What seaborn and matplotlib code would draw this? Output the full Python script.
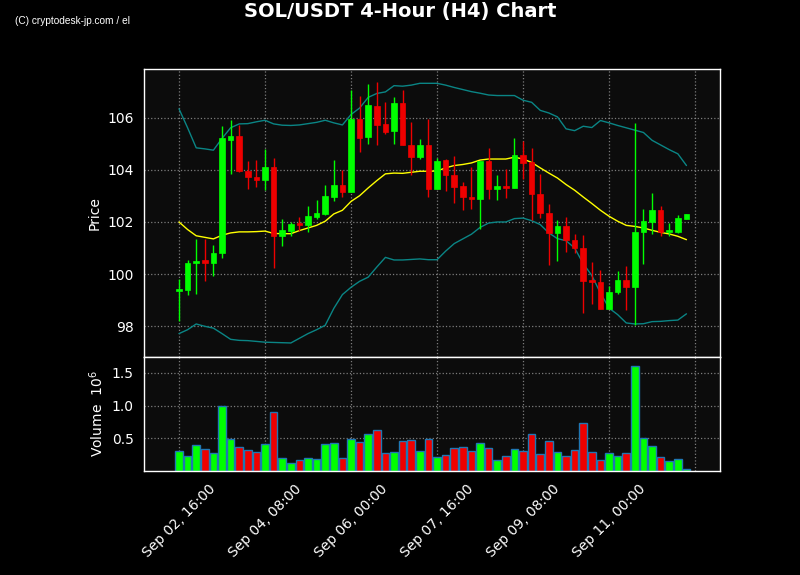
import matplotlib
matplotlib.use('Agg')
import matplotlib.pyplot as plt
import numpy as np
import pandas as pd
import seaborn as sns

# 4-hour candles (SOL/USDT)
opens = [99.35, 99.40, 100.44, 100.55, 100.41, 100.79, 105.17, 105.32, 103.97, 103.74,
         103.60, 104.13, 101.45, 101.67, 101.95, 101.87, 102.21, 102.32, 102.95, 103.44,
         103.17, 105.97, 105.26, 106.47, 105.78, 105.49, 106.59, 104.97, 104.49, 104.97,
         103.26, 104.40, 103.82, 103.40, 102.97, 102.87, 104.33, 103.26, 103.40, 103.29,
         104.58, 104.29, 103.09, 102.35, 101.56, 101.86, 101.32, 101.01, 99.76, 99.71,
         98.64, 99.29, 99.78, 99.49, 101.60, 102.01, 102.47, 101.63, 101.63, 102.13]
closes = [99.43, 100.44, 100.51, 100.41, 100.82, 105.21, 105.32, 103.95, 103.72, 103.60,
          104.13, 101.45, 101.71, 101.94, 101.87, 102.24, 102.36, 102.99, 103.44, 103.17,
          105.97, 105.21, 106.51, 105.74, 105.47, 106.59, 104.95, 104.49, 104.94, 103.26,
          104.36, 103.79, 103.36, 102.95, 102.87, 104.33, 103.26, 103.40, 103.29, 104.58,
          104.26, 103.06, 102.33, 101.56, 101.86, 101.29, 100.99, 99.72, 99.68, 98.64,
          99.32, 99.78, 99.49, 101.63, 102.05, 102.47, 101.63, 101.68, 102.17, 102.32]
highs = [99.80, 100.55, 101.35, 101.35, 101.12, 105.68, 105.92, 105.72, 104.33, 104.38,
         104.81, 104.46, 102.12, 102.00, 102.19, 102.63, 102.85, 103.44, 104.40, 104.01,
         107.06, 106.83, 107.31, 107.38, 106.62, 106.81, 107.08, 105.85, 105.19, 105.96,
         104.45, 104.42, 104.54, 103.54, 104.10, 104.33, 104.85, 103.81, 104.04, 105.23,
         105.10, 104.85, 103.85, 102.69, 102.08, 102.19, 101.55, 101.50, 100.47, 100.15,
         99.55, 100.12, 100.32, 105.81, 102.50, 103.12, 102.63, 101.96, 102.27, 102.32]
lows = [98.18, 99.19, 99.23, 99.74, 99.91, 100.62, 103.85, 103.92, 103.28, 103.35,
        103.24, 100.23, 101.08, 101.47, 101.64, 101.62, 102.10, 102.28, 102.79, 102.96,
        103.17, 104.69, 105.00, 104.96, 105.40, 105.00, 104.95, 103.82, 104.42, 102.96,
        103.26, 103.21, 102.73, 102.46, 102.50, 101.73, 102.88, 102.85, 102.92, 103.29,
        103.65, 102.09, 102.17, 100.36, 100.50, 100.85, 100.81, 98.50, 98.85, 98.64,
        98.64, 99.23, 98.63, 98.03, 100.40, 101.55, 101.47, 101.45, 101.58, 102.12]
# volume in millions
volumes = [0.30, 0.23, 0.40, 0.34, 0.27, 0.99, 0.49, 0.37, 0.32, 0.29,
           0.41, 0.90, 0.20, 0.12, 0.17, 0.20, 0.18, 0.41, 0.43, 0.20,
           0.49, 0.44, 0.56, 0.62, 0.27, 0.29, 0.46, 0.47, 0.30, 0.49,
           0.21, 0.24, 0.35, 0.37, 0.30, 0.43, 0.35, 0.17, 0.23, 0.34,
           0.30, 0.56, 0.26, 0.46, 0.29, 0.23, 0.32, 0.73, 0.29, 0.17,
           0.27, 0.23, 0.27, 1.60, 0.50, 0.38, 0.21, 0.15, 0.18, 0.03]
# 20-period SMA and Bollinger bands
sma = [102.00, 101.71, 101.47, 101.41, 101.35, 101.49, 101.58, 101.62, 101.62, 101.63,
       101.65, 101.56, 101.55, 101.55, 101.67, 101.77, 101.87, 102.03, 102.31, 102.45,
       102.79, 103.01, 103.31, 103.59, 103.85, 103.88, 103.87, 103.91, 103.95, 103.95,
       103.96, 104.08, 104.17, 104.21, 104.27, 104.38, 104.42, 104.42, 104.42, 104.49,
       104.42, 104.29, 104.08, 103.88, 103.69, 103.44, 103.22, 102.96, 102.71, 102.45,
       102.22, 102.03, 101.87, 101.83, 101.77, 101.68, 101.60, 101.54, 101.45, 101.32]
upper = [106.35, 105.62, 104.85, 104.81, 104.76, 105.21, 105.62, 105.77, 105.78, 105.85,
         105.91, 105.77, 105.72, 105.71, 105.73, 105.78, 105.83, 105.91, 105.81, 105.73,
         106.13, 106.38, 106.79, 106.94, 107.00, 107.24, 107.22, 107.26, 107.33, 107.33,
         107.33, 107.26, 107.17, 107.09, 107.01, 106.95, 106.88, 106.86, 106.86, 106.86,
         106.68, 106.60, 106.29, 106.19, 106.04, 105.58, 105.51, 105.68, 105.63, 105.90,
         105.81, 105.71, 105.62, 105.53, 105.44, 105.14, 104.96, 104.78, 104.62, 104.17]
lower = [97.71, 97.86, 98.08, 97.99, 97.92, 97.71, 97.49, 97.45, 97.44, 97.41,
         97.38, 97.37, 97.36, 97.35, 97.53, 97.71, 97.86, 98.03, 98.68, 99.21,
         99.49, 99.72, 99.88, 100.27, 100.64, 100.54, 100.54, 100.56, 100.58, 100.55,
         100.55, 100.88, 101.17, 101.35, 101.53, 101.79, 101.96, 102.00, 102.00, 102.13,
         102.15, 102.05, 101.90, 101.58, 101.36, 101.28, 101.00, 100.40, 99.94, 99.27,
         98.69, 98.44, 98.12, 98.08, 98.09, 98.17, 98.18, 98.21, 98.23, 98.47]

start_time = '2024-09-02 16:00'
tick_step = 10

up_color = '#00ff00'
down_color = '#ee0000'
bg = '#0c0c0c'

times = pd.date_range(start_time, periods=len(opens), freq='4h')
df = pd.DataFrame({'Open': opens, 'High': highs, 'Low': lows, 'Close': closes,
                   'Volume': volumes, 'SMA': sma, 'Upper': upper, 'Lower': lower})
df['idx'] = np.arange(len(df))
df['dir'] = np.where(df['Close'] >= df['Open'], 'up', 'down')
colors = np.where(df['dir'] == 'up', up_color, down_color)

sns.set_style('dark', rc={'axes.facecolor': bg, 'figure.facecolor': 'black',
                          'axes.edgecolor': 'white', 'text.color': 'white',
                          'xtick.color': 'white', 'ytick.color': 'white',
                          'axes.labelcolor': 'white'})
plt.rcParams['font.family'] = ['DejaVu Sans']

fig = plt.figure(figsize=(8, 5.75), dpi=100, facecolor='black')
ax = fig.add_axes([0.18, 0.3791, 0.72, 0.5009])
axv = fig.add_axes([0.18, 0.1809, 0.72, 0.1982], sharex=ax)

# Bollinger bands and moving average
sns.lineplot(data=df, x='idx', y='Upper', ax=ax, color='#0a8585', linewidth=1)
sns.lineplot(data=df, x='idx', y='Lower', ax=ax, color='#0a8585', linewidth=1)
sns.lineplot(data=df, x='idx', y='SMA', ax=ax, color='#ffff00', linewidth=1)

# candles
ax.vlines(df['idx'], df['Low'], df['High'], colors=colors, linewidth=1, zorder=3)
ax.bar(df['idx'], df['Close'] - df['Open'], bottom=df['Open'], width=0.66,
       color=colors, edgecolor=colors, linewidth=0.5, zorder=4)

# volume
sns.barplot(data=df, x='idx', y='Volume', hue='dir', native_scale=True, dodge=False,
            palette={'up': up_color, 'down': down_color}, saturation=1,
            errorbar=None, width=0.88, edgecolor='#1f77b4', linewidth=1,
            legend=False, ax=axv)

for a in (ax, axv):
    a.set_facecolor(bg)
    a.grid(True, linestyle=':', color='#999999', linewidth=0.9, alpha=0.8)
    for s in a.spines.values():
        s.set_color('white')
        s.set_linewidth(1)
    a.tick_params(colors='white', labelsize=10, length=4, width=1)

ax.set_ylim(96.81, 107.88)
ax.set_yticks([98, 100, 102, 104, 106])
ax.set_ylabel('Price', fontsize=10)
ax.set_xlabel('')
ax.tick_params(axis='x', labelbottom=False, length=0)

tick_pos = np.arange(0, len(df) + 1, tick_step)
tick_lab = [times[i].strftime('%b %d, %H:%M') if i < len(df) else '' for i in tick_pos]
axv.set_xticks(tick_pos)
axv.set_xticklabels(tick_lab, rotation=45, ha='center')
axv.set_xlim(-4.07, 62.9)
axv.set_ylim(0, 1.742)
axv.set_yticks([0.5, 1.0, 1.5])
axv.set_ylabel('Volume  $10^{6}$', fontsize=10)
axv.set_xlabel('')

fig.text(0.5, 1 - 11 / 575, 'SOL/USDT 4-Hour (H4) Chart', ha='center', va='center',
         fontsize=14, fontweight='bold', color='white')
fig.text(15 / 800, 1 - 21 / 575, '(C) cryptodesk-jp.com / el', ha='left', va='center',
         fontsize=7.3, family=['Liberation Sans'], color='white')

fig.savefig('out.png', dpi=100, facecolor='black')
